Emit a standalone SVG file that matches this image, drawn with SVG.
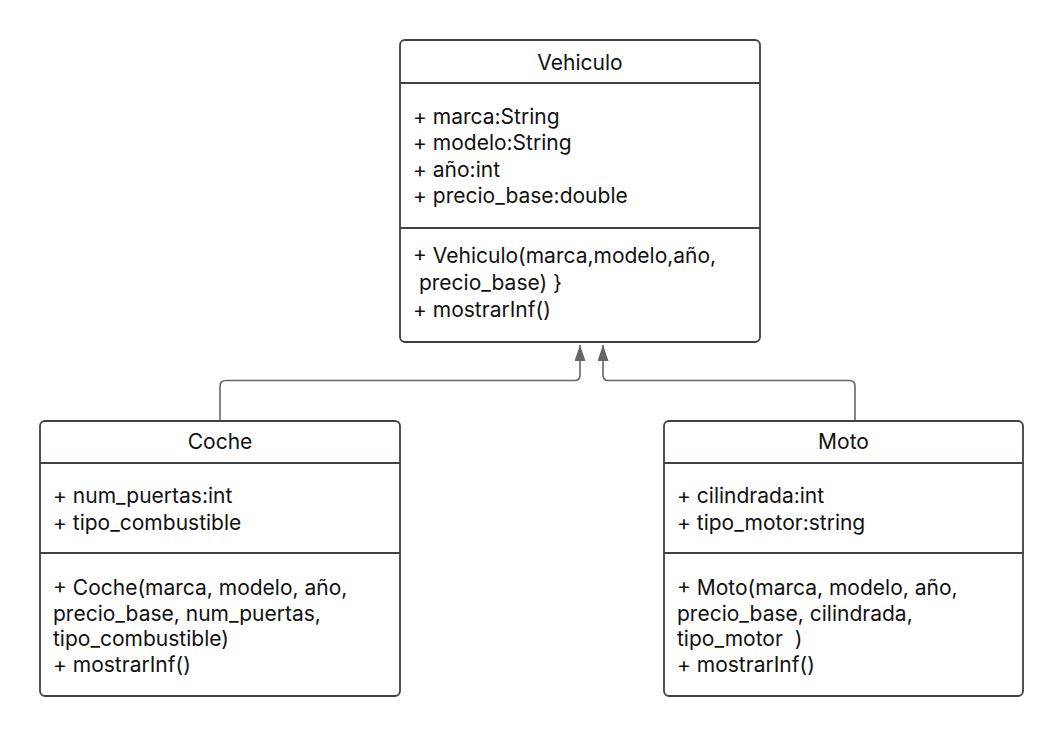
<svg xmlns="http://www.w3.org/2000/svg" width="1064" height="736" viewBox="0 0 1064 736">
<defs>
<style>
.box{fill:#fff;stroke:#3d4148;stroke-width:1.8}
.div{stroke:#3d4148;stroke-width:1.8}
text{font-family:Inter,"Liberation Sans",sans-serif;font-size:21px;fill:#111}
.t{text-anchor:middle}
.c{fill:none;stroke:#666;stroke-width:1.6}
</style>
<marker id="tri" viewBox="0 0 16 11" refX="16" refY="5.5" markerWidth="16" markerHeight="11" markerUnits="userSpaceOnUse" orient="auto">
<path d="M0 0 L16 5.5 L0 11 Z" fill="#666"/>
</marker>
</defs>
<rect width="1064" height="736" fill="#fff"/>
<g id="connectors">
<path class="c" d="M220 420 V386 Q220 380.5 226 380.5 H574.5 Q580 380.5 580 375 V345" marker-end="url(#tri)"/>
<path class="c" d="M855 420 V386 Q855 380.5 849 380.5 H608.5 Q603 380.5 603 375 V345" marker-end="url(#tri)"/>
</g>
<g id="vehiculo">
<rect class="box" x="400" y="40" width="360" height="302" rx="5"/>
<line class="div" x1="400" y1="83" x2="760" y2="83"/>
<line class="div" x1="400" y1="228" x2="760" y2="228"/>
<text class="t" x="580" y="70">Vehiculo</text>
<text x="413" y="124">+ marca:String</text>
<text x="413" y="150">+ modelo:String</text>
<text x="413" y="177">+ año:int</text>
<text x="413" y="203">+ precio_base:double</text>
<text x="413" y="263">+ Vehiculo(marca,modelo,año,</text>
<text x="413" y="290" xml:space="preserve"> precio_base) }</text>
<text x="413" y="317">+ mostrarInf()</text>
</g>
<g id="coche">
<rect class="box" x="40" y="421" width="360" height="275" rx="5"/>
<line class="div" x1="40" y1="463" x2="400" y2="463"/>
<line class="div" x1="40" y1="553" x2="400" y2="553"/>
<text class="t" x="220" y="449">Coche</text>
<text x="53" y="503">+ num_puertas:int</text>
<text x="53" y="530">+ tipo_combustible</text>
<text x="53" y="595">+ Coche(marca, modelo, año,</text>
<text x="53" y="621">precio_base, num_puertas,</text>
<text x="53" y="646">tipo_combustible)</text>
<text x="53" y="672">+ mostrarInf()</text>
</g>
<g id="moto">
<rect class="box" x="664" y="421" width="359" height="275" rx="5"/>
<line class="div" x1="664" y1="463" x2="1023" y2="463"/>
<line class="div" x1="664" y1="553" x2="1023" y2="553"/>
<text class="t" x="843.5" y="449">Moto</text>
<text x="677" y="503">+ cilindrada:int</text>
<text x="677" y="530">+ tipo_motor:string</text>
<text x="677" y="595">+ Moto(marca, modelo, año,</text>
<text x="677" y="621">precio_base, cilindrada,</text>
<text x="677" y="646" xml:space="preserve">tipo_motor  )</text>
<text x="677" y="672">+ mostrarInf()</text>
</g>
</svg>
